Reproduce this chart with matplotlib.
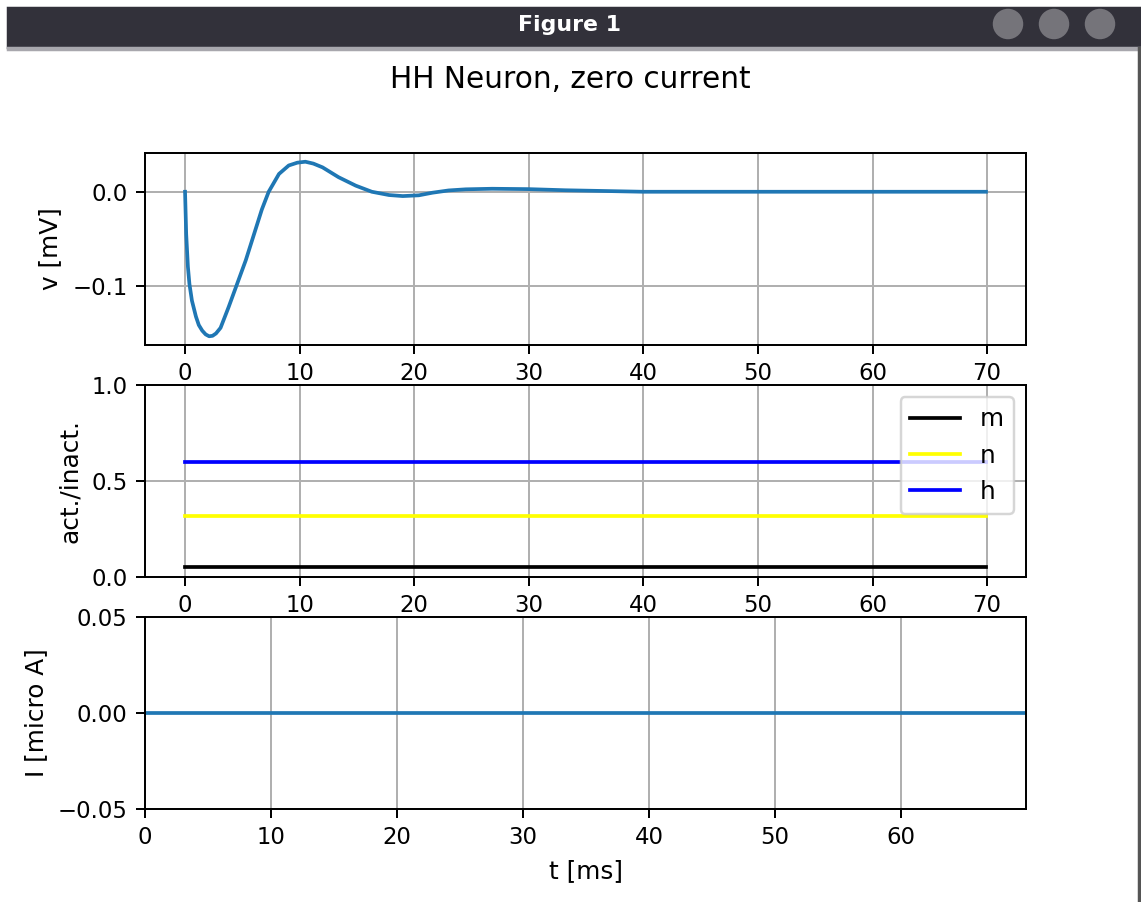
import matplotlib
matplotlib.use("Agg")
import matplotlib.pyplot as plt
from matplotlib.patches import Rectangle, Ellipse

# membrane voltage
t_v = [0, 0.1, 0.25, 0.38, 0.6, 0.95, 1.2, 1.5, 1.8, 2.1, 2.4, 2.7, 3.1, 3.8, 4.55, 5.3,
       6.0, 6.7, 7.3, 8.2, 9.05, 9.8, 10.5, 11.2, 12.0, 13.4, 14.9, 16.3, 17.8, 19.0, 20.4,
       21.6, 23.0, 24.5, 26.8, 30.0, 33.2, 36.2, 40.0, 50.0, 60.0, 69.9]
v = [0.0, -0.045, -0.080, -0.098, -0.116, -0.133, -0.142, -0.148, -0.152, -0.154, -0.1535,
     -0.151, -0.145, -0.123, -0.098, -0.073, -0.046, -0.019, 0.0, 0.019, 0.028, 0.031, 0.032,
     0.030, 0.026, 0.0155, 0.0065, 0.0, -0.0035, -0.0046, -0.0038, -0.001, 0.0014, 0.0026,
     0.0032, 0.0028, 0.0016, 0.0009, 0.0, 0.0, 0.0, 0.0]

# gating variables (constant)
t_gate = [0, 69.9]
m = [0.053, 0.053]
n = [0.32, 0.32]
h = [0.60, 0.60]

# input current
t_I = [0, 69.9]
I = [0.0, 0.0]

W, H = 1141, 902
DPI = 178
fig, axs = plt.subplots(3, 1, figsize=(W / DPI, H / DPI), dpi=DPI)
fig.subplots_adjust(left=145 / W, right=1026 / W, top=1 - 153 / H, bottom=1 - 809 / H,
                    hspace=40 / 192)

# window title bar
fig.patches.append(Rectangle((8 / W, 1 - 48 / H), (W - 8) / W, 40 / H,
                             transform=fig.transFigure, color='#32313a', zorder=0))
fig.patches.append(Rectangle((8 / W, 1 - 49.5 / H), (W - 8) / W, 1.5 / H,
                             transform=fig.transFigure, color='#a8a7ad', zorder=0))
fig.patches.append(Rectangle((1139 / W, 0), 1 / W, 1 - 48 / H,
                             transform=fig.transFigure, color='#555555', zorder=0))
for cx in [1008, 1054, 1100]:
    fig.patches.append(Ellipse((cx / W, 1 - 24 / H), 28 / W, 28 / H,
                               transform=fig.transFigure, color='#75747a', zorder=1))
fig.text(570 / W, 1 - 25 / H, 'Figure 1', color='white', fontsize=8.9,
         fontweight='bold', ha='center', va='center')

fig.text(0.5, 1 - 80 / H, 'HH Neuron, zero current', fontsize=12, ha='center', va='center')

ax = axs[0]
ax.plot(t_v, v)
ax.set_ylabel('v [mV]')
ax.grid()

ax = axs[1]
ax.plot(t_gate, m, color='black', label='m')
ax.plot(t_gate, n, color='yellow', label='n')
ax.plot(t_gate, h, color='blue', label='h')
ax.set_ylim(0, 1)
ax.set_yticks([0.0, 0.5, 1.0])
ax.set_ylabel('act./inact.')
ax.legend(loc='upper right')
ax.grid()

ax = axs[2]
ax.plot(t_I, I)
ax.set_xlim(0, 69.9)
ax.set_ylim(-0.05, 0.05)
ax.set_yticks([-0.05, 0.0, 0.05])
ax.set_xlabel('t [ms]')
ax.set_ylabel('I [micro A]')
ax.grid()

for ax in axs:
    ax.tick_params(labelsize=9.2)

fig.savefig('out.png', dpi=DPI)
